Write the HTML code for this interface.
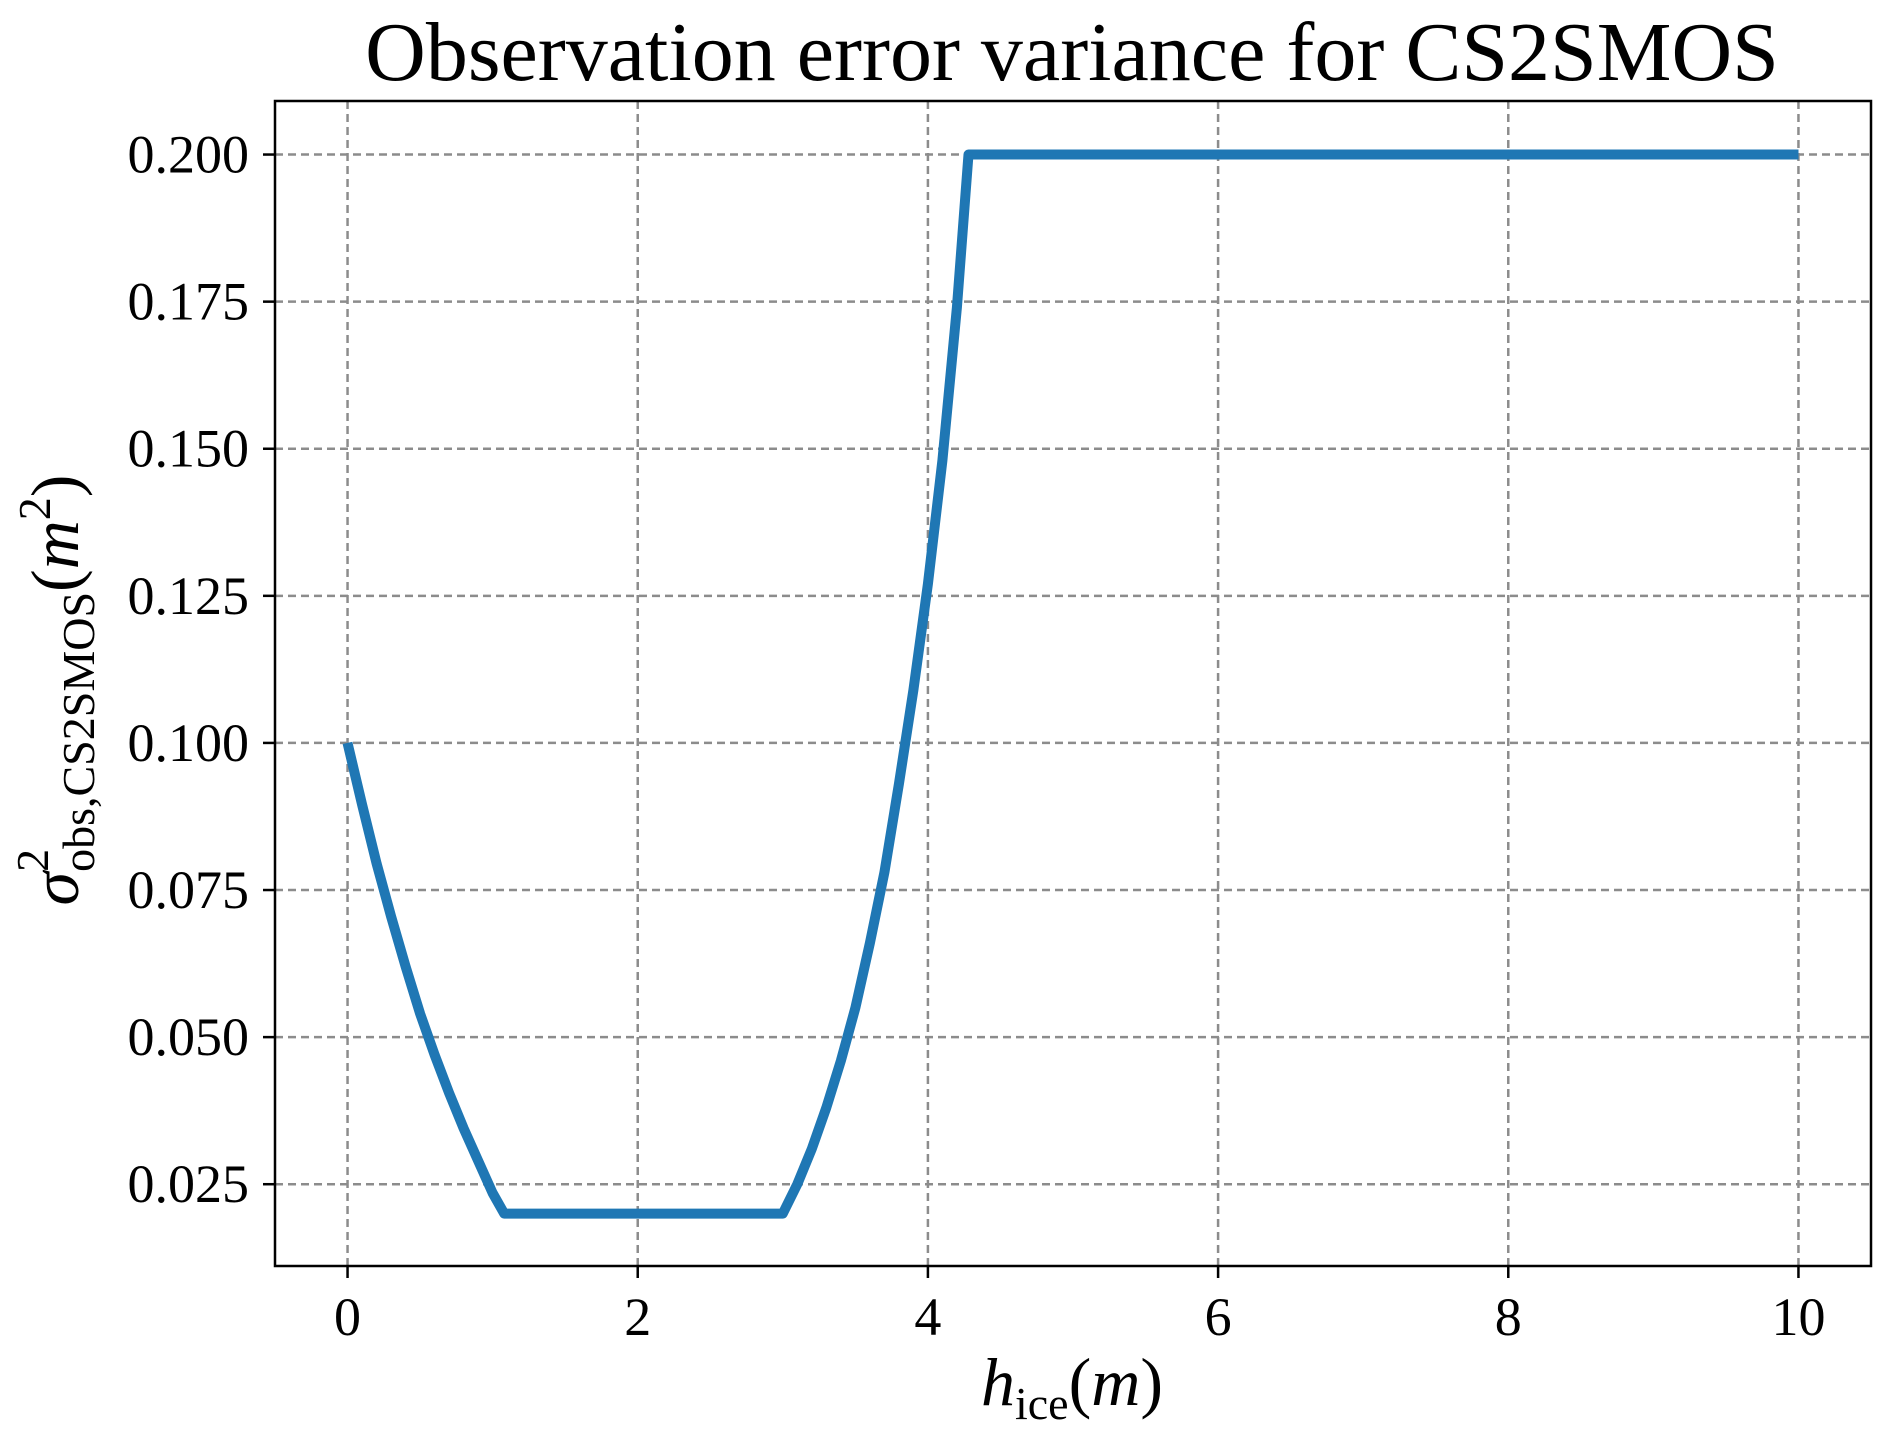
<!DOCTYPE html>
<html><head><meta charset="utf-8"><style>
html,body{margin:0;padding:0;background:#fff;}
svg{display:block;font-family:"Liberation Serif",serif;}
</style></head><body>
<svg id="chart" width="1892" height="1447" viewBox="0 0 1892 1447">
<text x="1072" y="80" font-size="84" text-anchor="middle">Observation error variance for CS2SMOS</text>
<g id="grid"></g>
<g id="series"></g>
<rect x="275" y="101" width="1596" height="1165" fill="none" stroke="#000" stroke-width="2.5"/>
<g id="ticks"></g>
<text x="1072" y="1405" font-size="68" text-anchor="middle"><tspan font-style="italic">h</tspan><tspan font-size="46" dy="14">ice</tspan><tspan dy="-14">(</tspan><tspan font-style="italic">m</tspan>)</text>
<text transform="translate(78,690) rotate(-90)" font-size="68" text-anchor="middle"><tspan font-style="italic">σ</tspan><tspan font-size="46" dy="-30">2</tspan><tspan font-size="46" dx="-23" dy="46">obs,CS2SMOS</tspan><tspan dy="-16">(</tspan><tspan font-style="italic">m</tspan><tspan font-size="46" dy="-28">2</tspan><tspan dy="28">)</tspan></text>
</svg>
<script>
const xTicks=[0,2,4,6,8,10];
const yTicks=[0.025,0.05,0.075,0.1,0.125,0.15,0.175,0.2];
const yTickLabels=["0.025","0.050","0.075","0.100","0.125","0.150","0.175","0.200"];
const seriesX=[0,0.1,0.2,0.3,0.4,0.5,0.6,0.7,0.8,0.9,1.0,1.08,2.0,3.0,3.1,3.2,3.3,3.4,3.5,3.6,3.7,3.8,3.9,4.0,4.1,4.2,4.28,10];
const seriesY=[0.1,0.0895,0.0795,0.0705,0.062,0.054,0.047,0.0405,0.0345,0.029,0.0235,0.02,0.02,0.02,0.025,0.031,0.038,0.046,0.055,0.066,0.078,0.093,0.109,0.127,0.148,0.174,0.2,0.2];
const L=275,R=1871,T=101,B=1266,xmin=-0.5,xmax=10.5,ymin=0.0111,ymax=0.2091;
function X(v){return L+(v-xmin)/(xmax-xmin)*(R-L);}
function Y(v){return B-(v-ymin)/(ymax-ymin)*(B-T);}
const NS="http://www.w3.org/2000/svg";
const grid=document.getElementById('grid'),ticks=document.getElementById('ticks'),ser=document.getElementById('series');
function mk(tag,attrs,parent){const e=document.createElementNS(NS,tag);for(const k in attrs)e.setAttribute(k,attrs[k]);parent.appendChild(e);return e;}
xTicks.forEach(v=>{
 const g=mk('line',{x1:X(v),x2:X(v),y1:T,y2:B,stroke:'#8c8c8c','stroke-width':2.5,'stroke-dasharray':'8,5'},grid);
 
 
 const t=mk('line',{x1:X(v),x2:X(v),y1:B,y2:B+12,stroke:'#000','stroke-width':2.5},ticks);
 
 
 const l=mk('text',{x:X(v),y:1335,'font-size':54,'text-anchor':'middle'},ticks);
 l.textContent=String(v);
 
 
});
yTicks.forEach((v,i)=>{
 const g=mk('line',{x1:L,x2:R,y1:Y(v),y2:Y(v),stroke:'#8c8c8c','stroke-width':2.5,'stroke-dasharray':'8,5'},grid);
 
 
 const t=mk('line',{x1:L-12,x2:L,y1:Y(v),y2:Y(v),stroke:'#000','stroke-width':2.5},ticks);
 
 
 const l=mk('text',{x:249,y:Y(v)+18,'font-size':54,'text-anchor':'end'},ticks);
 l.textContent=yTickLabels[i];
 
 
});
const pts=seriesX.map((x,i)=>X(x).toFixed(1)+','+Y(seriesY[i]).toFixed(1)).join(' ');
const pl=mk('polyline',{points:pts,fill:'none',stroke:'#1f77b4','stroke-width':10,'stroke-linejoin':'round'},ser);


</script>
</body></html>
